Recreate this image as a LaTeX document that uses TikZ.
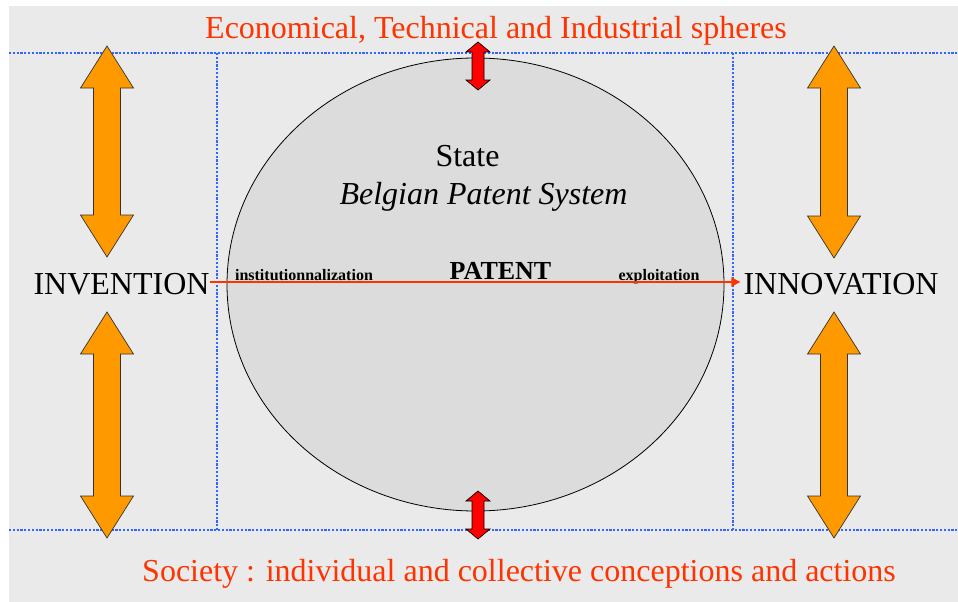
\documentclass[tikz,border=0pt]{standalone}
\usepackage{fontspec}
\setmainfont{Liberation Serif}
\usetikzlibrary{arrows.meta}
\definecolor{sphere}{HTML}{FF3300}
\definecolor{dotblue}{HTML}{3366FF}
\definecolor{arrorange}{HTML}{FF9900}
\definecolor{bggray}{HTML}{EAEAEA}
\definecolor{ellgray}{HTML}{DCDCDC}
\begin{document}
\begin{tikzpicture}[
        x=1pt, y=-1pt,
        every node/.style={inner sep=0pt, anchor=base},
        big/.style={font=\fontsize{32}{38}\selectfont},
        red text/.style={big, text=sphere},
        small bold/.style={font=\fontsize{16}{19}\selectfont\bfseries},
        border/.style={draw=dotblue, line width=2.2pt, dash pattern=on 2.2pt off 1.6pt},
        orange block/.style={draw=black!80, fill=arrorange, line width=0.7pt},
        red block/.style={draw=black, fill=red, line width=0.7pt},
        flow/.style={draw=sphere, line width=1.8pt, -{Triangle[length=9pt,width=9pt]}},
    ]
    \useasboundingbox (0,0) rectangle (958,602);
    \fill[bggray] (9,6) rectangle (958,602);

    % spheres
    \draw[border] (9,53) -- (958,53);
    \draw[border] (9,530) -- (958,530);
    \draw[border, line width=1.8pt] (217,53) -- (217,530);
    \draw[border, line width=1.8pt] (733,53) -- (733,530);

    \draw[fill=ellgray, line width=0.8pt] (475.5,284.5) ellipse [x radius=248.5, y radius=226.5];

    \node[red text] (eco) at (496,38) {Economical, Technical and Industrial spheres};
    \node[red text] (soc) at (519,581) {Society : individual and collective conceptions and actions};

    \node[big] (state) at (467.5,166) {State};
    \node[big] (bps) at (483.5,204) {\itshape Belgian Patent System};
    \node[font=\fontsize{26}{30}\selectfont\bfseries] (patent) at (500.5,279) {PATENT};
    \node[small bold] (inst) at (304,280) {institutionnalization};
    \node[small bold] (expl) at (659,280) {exploitation};

    \node[big] (invention) at (121.5,294) {INVENTION};
    \node[big] (innovation) at (841,294) {INNOVATION};
    \draw[flow] (invention.east |- 0,282) -- ([xshift=-3pt]innovation.west |- 0,282);

    % double block arrows: x / top tip / bottom tip
    \foreach \x/\a/\b in {107/46/257, 107/312/538, 834/46/258, 834/312/538}
        \draw[orange block] (\x,\a) -- (\x+26.5,\a+42) -- (\x+13.5,\a+42) -- (\x+13.5,\b-42)
            -- (\x+26.5,\b-42) -- (\x,\b) -- (\x-26.5,\b-42) -- (\x-13.5,\b-42)
            -- (\x-13.5,\a+42) -- (\x-26.5,\a+42) -- cycle;
    \foreach \a/\b in {42/90, 491/539}
        \draw[red block] (478,\a) -- (490,\a+10) -- (484,\a+10) -- (484,\b-10) -- (490,\b-10)
            -- (478,\b) -- (466,\b-10) -- (472,\b-10) -- (472,\a+10) -- (466,\a+10) -- cycle;
\end{tikzpicture}
\end{document}
